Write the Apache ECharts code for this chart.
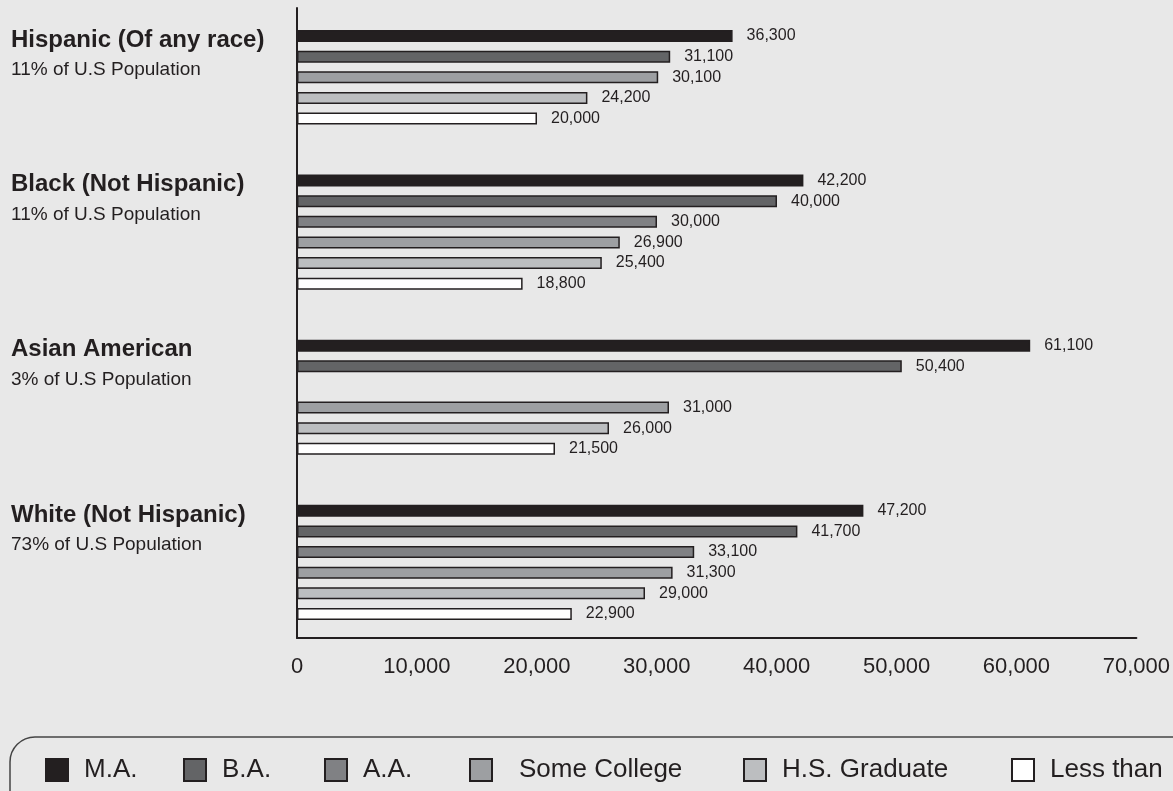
<!DOCTYPE html>
<html>
<head>
<meta charset="utf-8">
<script src="https://cdn.jsdelivr.net/npm/echarts@6/dist/echarts.min.js"></script>
<style>
  html, body { margin: 0; padding: 0; background: #e8e8e8; }
  #chart { width: 1173px; height: 791px; }
</style>
</head>
<body>
<div id="chart"></div>
<script>
"use strict";
// groups down the left side
var groups = ['Hispanic (Of any race)', 'Black (Not Hispanic)', 'Asian American', 'White (Not Hispanic)'];
var shares = ['11% of U.S Population', '11% of U.S Population', '3% of U.S Population', '73% of U.S Population'];
var levels = ['M.A.', 'B.A.', 'A.A.', 'Some College', 'H.S. Graduate', 'Less than'];

// values per education level, one per group (null = not shown)
var maValues          = [36300, 42200, 61100, 47200];
var baValues          = [31100, 40000, 50400, 41700];
var aaValues          = [null,  30000, null,  33100];
var someCollegeValues = [30100, 26900, 31000, 31300];
var hsGradValues      = [24200, 25400, 26000, 29000];
var lessThanValues    = [20000, 18800, 21500, 22900];

var xMax = 70000;
var xStep = 10000;

// Hispanic group has no A.A. slot, Asian keeps an empty one
var groupRows = [
    ['M.A.', 'B.A.', 'Some College', 'H.S. Graduate', 'Less than'],
    levels, levels, levels
];

var levelValues = [maValues, baValues, aaValues, someCollegeValues, hsGradValues, lessThanValues];
var levelColors = ['#231f20', '#636466', '#808184', '#9d9fa2', '#bcbec0', '#ffffff'];
var ink = '#231f20';
var font = 'Liberation Sans, Arial, sans-serif';

// one category row per bar slot, two empty rows between groups
var rows = [];
groups.forEach(function (g, gi) {
    groupRows[gi].forEach(function (lvl, pos) {
        rows.push({group: gi, level: lvl, pos: pos});
    });
    if (gi < groups.length - 1) {
        rows.push({group: gi, level: null, pos: -1});
        rows.push({group: gi, level: null, pos: -1});
    }
});
var rowNames = rows.map(function (r, i) {
    return r.level ? groups[r.group] + '|' + r.level : 'gap' + i;
});

var series = levels.map(function (lvl, li) {
    return {
        name: lvl,
        type: 'bar',
        xAxisIndex: 0,
        yAxisIndex: 0,
        barWidth: 12,
        barGap: '-100%',
        itemStyle: {color: levelColors[li], borderColor: ink, borderWidth: 1.5},
        label: {
            show: true, position: 'right', distance: 14,
            fontSize: 16, color: ink, fontFamily: font,
            formatter: function (p) { return Number(p.value).toLocaleString('en-US'); }
        },
        data: rows.map(function (r) {
            var v = levelValues[li][r.group];
            return (r.level === lvl && v != null) ? v : '-';
        })
    };
});

var legendLefts = [45, 183, 324, 469, 743, 1011];
var legends = levels.map(function (lvl, li) {
    return {
        data: [lvl],
        left: legendLefts[li],
        top: 757,
        padding: 0,
        itemWidth: 22,
        itemHeight: 22,
        icon: 'rect',
        selectedMode: false,
        itemStyle: {borderColor: ink, borderWidth: 2},
        textStyle: {
            fontSize: 26, color: ink, fontFamily: font,
            padding: [4, 0, 0, lvl === 'Some College' ? 22 : 11]
        }
    };
});

var chart = echarts.init(document.getElementById('chart'));
chart.setOption({
    backgroundColor: '#e8e8e8',
    animation: false,
    legend: legends,
    grid: [
        {left: 297, right: 36, top: 25.7, bottom: 166.7},
        {left: 297, right: 36, top: 8, bottom: 153}
    ],
    xAxis: [
        {gridIndex: 0, type: 'value', min: 0, max: xMax, interval: xStep, show: false},
        {
            gridIndex: 1, type: 'value', min: 0, max: xMax, interval: xStep,
            axisLine: {show: true, lineStyle: {color: ink, width: 2}},
            axisTick: {show: false},
            splitLine: {show: false},
            axisLabel: {
                margin: 18, fontSize: 22, color: ink,
                fontFamily: 'Liberation Sans Narrow, Arial Narrow, Liberation Sans, sans-serif',
                formatter: function (v) { return Number(v).toLocaleString('en-US'); }
            }
        }
    ],
    yAxis: [
        {
            gridIndex: 0, type: 'category', inverse: true, data: rowNames,
            axisLine: {show: false}, axisTick: {show: false}, splitLine: {show: false},
            axisLabel: {
                interval: 0, align: 'left', margin: 286, verticalAlign: 'middle',
                formatter: function (v, idx) {
                    var r = rows[idx];
                    if (!r || r.pos !== 1) return '';
                    return '{t|' + groups[r.group] + '}\n{s|' + shares[r.group] + '}';
                },
                rich: {
                    t: {fontSize: 24, fontWeight: 'bold', color: ink, lineHeight: 27, fontFamily: font},
                    s: {fontSize: 19, color: ink, lineHeight: 33, fontFamily: font}
                }
            }
        },
        {
            gridIndex: 1, type: 'value', min: 0, max: 1,
            axisLine: {show: true, lineStyle: {color: ink, width: 2}},
            axisTick: {show: false}, axisLabel: {show: false}, splitLine: {show: false}
        }
    ],
    graphic: [{
        type: 'rect',
        shape: {x: 10, y: 737, width: 1200, height: 120, r: [25, 0, 0, 0]},
        style: {fill: 'none', stroke: '#444', lineWidth: 1.5},
        silent: true
    }],
    series: series
});
</script>
</body>
</html>
